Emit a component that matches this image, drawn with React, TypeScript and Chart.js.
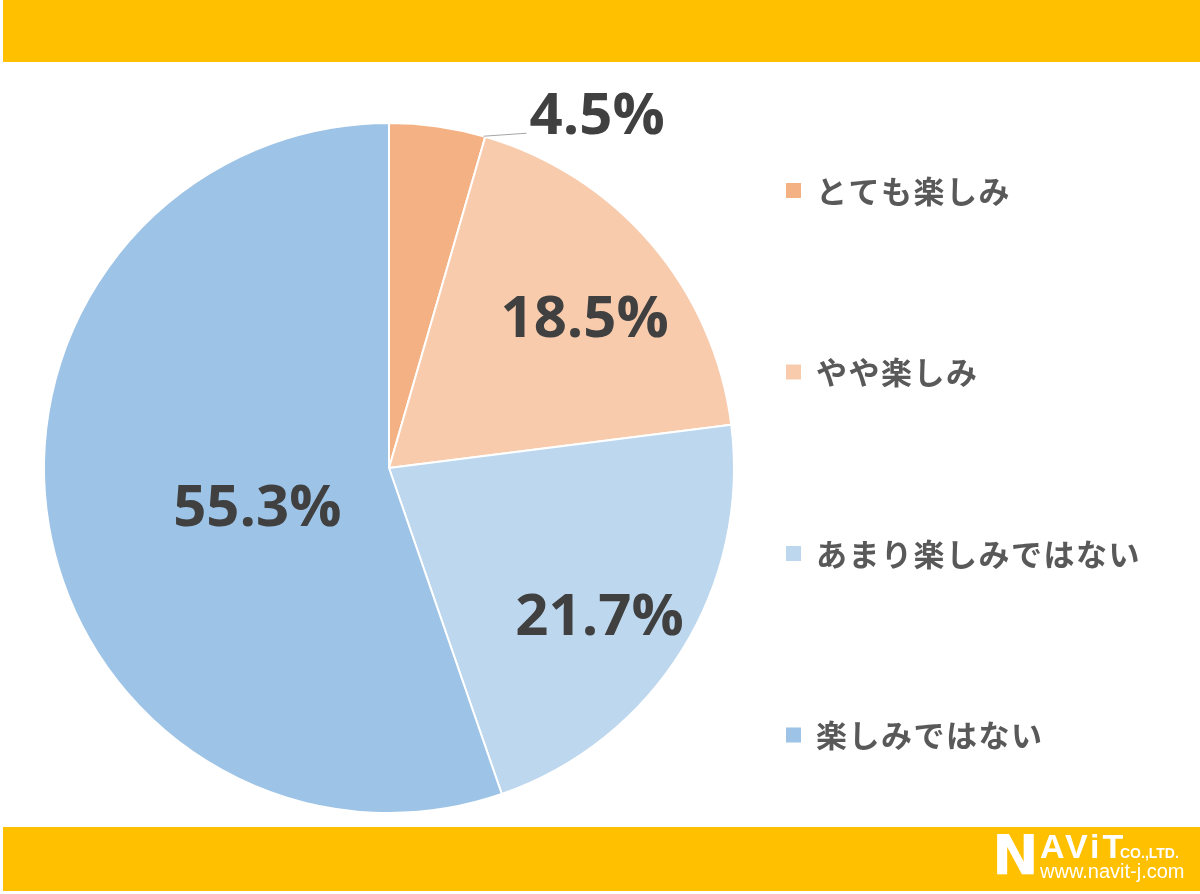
import React, { useEffect, useRef } from "react";
import { Chart, registerables } from "chart.js";

Chart.register(...registerables);

const categories = ["とても楽しみ", "やや楽しみ", "あまり楽しみではない", "楽しみではない"];
const values = [4.5, 18.5, 21.7, 55.3];
const valueLabels = ["4.5%", "18.5%", "21.7%", "55.3%"];
const colors = ["#F4B183", "#F8CBAD", "#BDD7EE", "#9DC3E6"];

// label placement (angle offset in degrees from slice middle, radius fraction); null = outside with leader
const labelPlacement: ({ da: number; rf: number } | null)[] = [null, { da: 3.5, rf: 0.71 }, { da: 3.7, rf: 0.75 }, { da: -7.8, rf: 0.4 }];

const labelPlugin = {
  id: "customLabels",
  afterDatasetsDraw(chart: any) {
    const ctx = chart.ctx;
    const meta = chart.getDatasetMeta(0);
    ctx.save();
    ctx.fillStyle = "#404040";
    ctx.font = "bold 58px 'Open Sans'";
    ctx.textAlign = "center";
    ctx.textBaseline = "middle";
    meta.data.forEach((arc: any, i: number) => {
      const p = labelPlacement[i];
      const { x, y, startAngle, endAngle, outerRadius } = arc.getProps(["x", "y", "startAngle", "endAngle", "outerRadius"], true);
      if (p) {
        const a = (startAngle + endAngle) / 2 + (p.da * Math.PI) / 180;
        const r = outerRadius * p.rf;
        ctx.fillText(valueLabels[i], x + r * Math.cos(a), y + r * Math.sin(a));
      } else {
        const a = endAngle - 0.005;
        const sx = x + outerRadius * Math.cos(a);
        const sy = y + outerRadius * Math.sin(a);
        const ex = sx + 43;
        const ey = sy - 3;
        ctx.strokeStyle = "#A6A6A6";
        ctx.lineWidth = 1;
        ctx.beginPath();
        ctx.moveTo(sx, sy);
        ctx.lineTo(ex, ey);
        ctx.stroke();
        ctx.textAlign = "left";
        ctx.textBaseline = "alphabetic";
        ctx.fillText(valueLabels[i], ex + 3, ey + 1);
        ctx.textAlign = "center";
        ctx.textBaseline = "middle";
      }
    });
    // legend
    ctx.font = "600 31px 'Noto Sans CJK JP'";
    (ctx as any).letterSpacing = "1.5px";
    ctx.textAlign = "left";
    ctx.textBaseline = "middle";
    categories.forEach((c, i) => {
      const cy = 190 + 181.5 * i;
      ctx.fillStyle = colors[i];
      ctx.fillRect(786, cy - 7, 15, 15);
      ctx.fillStyle = "#595959";
      ctx.fillText(c, 816, cy + 1);
    });
    ctx.restore();
  },
};

export default function App() {
  const ref = useRef<HTMLCanvasElement>(null);
  useEffect(() => {
    if (!ref.current) return;
    const chart = new Chart(ref.current, {
      type: "pie",
      data: {
        labels: categories,
        datasets: [
          {
            data: values,
            backgroundColor: colors,
            borderColor: "#FFFFFF",
            borderWidth: 2,
          },
        ],
      },
      options: {
        animation: false,
        responsive: false,
        radius: 345,
        layout: { padding: { left: 0, right: 422, top: 42, bottom: 0 } },
        plugins: { legend: { display: false }, tooltip: { enabled: false } },
      } as any,
      plugins: [labelPlugin],
    });
    return () => chart.destroy();
  }, []);

  return (
    <div style={{ position: "absolute", left: 0, top: 0, width: 1200, height: 894, background: "#FFFFFF", overflow: "hidden" }}>
      <div style={{ position: "absolute", left: 3, top: 0, width: 1197, height: 62, background: "#FFC000" }} />
      <div style={{ position: "absolute", left: 3, top: 827, width: 1197, height: 64, background: "#FFC000" }} />
      <canvas ref={ref} width={1200} height={894} style={{ position: "absolute", left: 0, top: 0 }} />
      <div style={{ position: "absolute", left: 992, top: 826, color: "#FFFFFF", fontFamily: "'DejaVu Sans', sans-serif", fontWeight: 700, fontSize: 56, lineHeight: "58px" }}>N</div>
      <div style={{ position: "absolute", left: 1040, top: 829, color: "#FFFFFF", fontFamily: "'Liberation Sans', Arial, sans-serif", fontWeight: 700, fontSize: 34, lineHeight: "34px", letterSpacing: 3 }}>AViT</div>
      <div style={{ position: "absolute", left: 1120, top: 846, color: "#FFFFFF", fontFamily: "'Liberation Sans', Arial, sans-serif", fontWeight: 700, fontSize: 14, lineHeight: "14px" }}>CO.,LTD.</div>
      <div style={{ position: "absolute", left: 1040, top: 861, color: "#FFFFFF", fontFamily: "'Liberation Sans', Arial, sans-serif", fontSize: 20, lineHeight: "20px" }}>www.navit-j.com</div>
    </div>
  );
}
